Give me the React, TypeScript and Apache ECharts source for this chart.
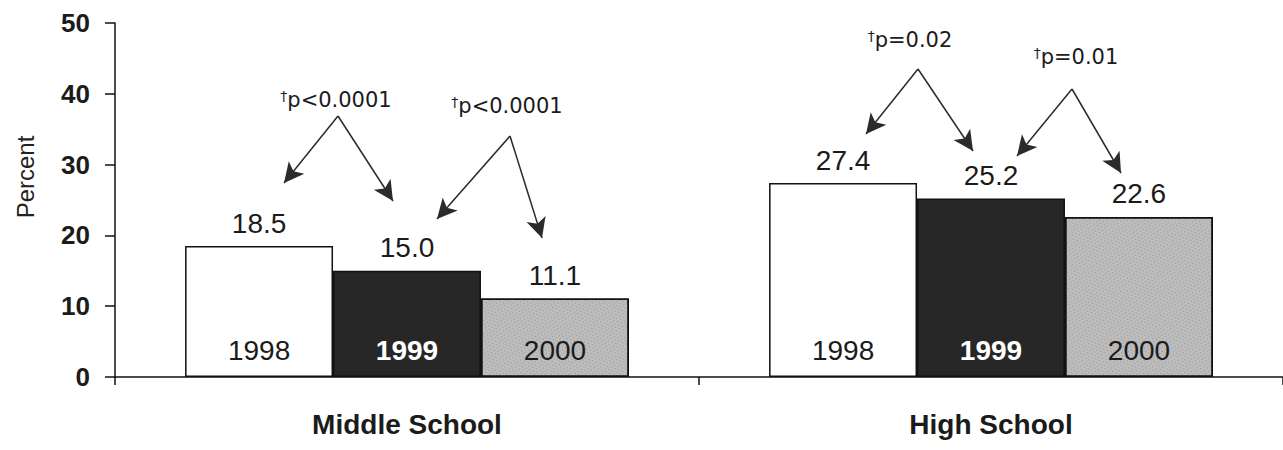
import React, { useEffect, useRef } from 'react';
import * as echarts from 'echarts';

// Prevalence by school level and survey year
const categories = ['Middle School', 'High School'];
const years = ['1998', '1999', '2000'];
const rate1998 = [18.5, 27.4];
const rate1999 = [15.0, 25.2];
const rate2000 = [11.1, 22.6];

// Significance of year-to-year changes (left pair, right pair per school level)
const pLabels = ['p<0.0001', 'p<0.0001', 'p=0.02', 'p=0.01'];

// Pixel layout of the comparison arrows: caption centre, apex, left tip, right tip
const arrowLayout = [
  { cx: 336, cy: 100, apex: [338, 116], left: [284, 183], right: [393, 201] },
  { cx: 507, cy: 106, apex: [510, 136], left: [437, 219], right: [542, 238] },
  { cx: 910, cy: 40, apex: [918, 69], left: [866, 134], right: [973, 151] },
  { cx: 1076, cy: 57, apex: [1072, 89], left: [1017, 156], right: [1121, 173] },
];

const FONT = '"Liberation Sans", Arial, Helvetica, sans-serif';
const INK = '#1b1b1b';

const fills = ['#ffffff', '#272727', '#bcbcbc'];
// stippled look for the 2000 bars
const stipple = {
  symbol: 'rect',
  symbolSize: 0.9,
  color: 'rgba(90, 90, 90, 0.45)',
  dashArrayX: [
    [1, 3],
    [0, 2, 1, 1],
  ],
  dashArrayY: [1, 2],
  rotation: 0.35,
};
const decals: any[] = [null, null, stipple];
const yearLabelStyle = [
  { color: INK, fontWeight: 'normal' },
  { color: '#ffffff', fontWeight: 'bold' },
  { color: INK, fontWeight: 'normal' },
];

function buildOption() {
  const seriesValues = [rate1998, rate1999, rate2000];
  const series: any[] = [];
  seriesValues.forEach((values, i) => {
    const stack = 'y' + years[i];
    const itemStyle: any = { color: fills[i], borderColor: '#111', borderWidth: 1.5 };
    if (decals[i]) itemStyle.decal = decals[i];
    // the bar itself, with the survey year written inside its foot
    series.push({
      type: 'bar',
      name: years[i],
      stack,
      data: values,
      barGap: '0%',
      barCategoryGap: '24%',
      silent: true,
      itemStyle,
      label: {
        show: true,
        position: 'insideBottom',
        distance: 13,
        formatter: () => years[i],
        fontFamily: FONT,
        fontSize: 28,
        ...yearLabelStyle[i],
      },
    });
    // zero-height cap carrying the value label above the bar
    series.push({
      type: 'bar',
      name: years[i] + ' value',
      stack,
      data: values.map(() => 0),
      barGap: '0%',
      barCategoryGap: '24%',
      silent: true,
      itemStyle: { color: 'transparent', borderWidth: 0 },
      label: {
        show: true,
        position: 'top',
        distance: 9,
        formatter: (p: any) => values[p.dataIndex].toFixed(1),
        fontFamily: FONT,
        fontSize: 28,
        color: INK,
      },
    });
  });

  // comparison arrows
  const arrowLines: any[] = [];
  arrowLayout.forEach((a) => {
    arrowLines.push([
      { x: a.apex[0], y: a.apex[1] },
      { x: a.left[0], y: a.left[1] },
    ]);
    arrowLines.push([
      { x: a.apex[0], y: a.apex[1] },
      { x: a.right[0], y: a.right[1] },
    ]);
  });
  series[0].markLine = {
    silent: true,
    animation: false,
    symbol: ['none', 'arrow'],
    symbolSize: [15, 20],
    label: { show: false },
    lineStyle: { color: '#2b2b2b', width: 1.5, type: 'solid' },
    data: arrowLines,
  };

  const graphics: any[] = arrowLayout.map((a, i) => ({
    type: 'text',
    x: a.cx,
    y: a.cy,
    silent: true,
    style: {
      text: '{d|\u2020}{p|' + pLabels[i] + '}',
      align: 'center',
      verticalAlign: 'middle',
      textAlign: 'center',
      textVerticalAlign: 'middle',
      fill: INK,
      rich: {
        d: { fontFamily: '"DejaVu Sans", sans-serif', fontSize: 14, verticalAlign: 'top', fill: INK, color: INK, lineHeight: 23 },
        p: { fontFamily: '"DejaVu Sans", sans-serif', fontSize: 21, fill: INK, color: INK, lineHeight: 23 },
      },
    },
  }));
  graphics.push({
    type: 'text',
    x: 25,
    y: 177,
    rotation: Math.PI / 2,
    silent: true,
    style: {
      text: 'Percent',
      font: '24px ' + FONT,
      fill: '#222',
      align: 'center',
      verticalAlign: 'middle',
      textAlign: 'center',
      textVerticalAlign: 'middle',
    },
  });

  return {
    animation: false,
    backgroundColor: '#ffffff',
    aria: { enabled: false, decal: { show: false } },
    grid: { left: 115, width: 1174, top: 23, bottom: 73, containLabel: false },
    xAxis: {
      type: 'category',
      data: categories,
      boundaryGap: true,
      axisLine: { show: true, lineStyle: { color: '#111', width: 1.5 } },
      axisTick: { show: true, length: 8, lineStyle: { color: '#111', width: 1.5 } },
      axisLabel: {
        fontFamily: FONT,
        fontSize: 28,
        fontWeight: 'bold',
        color: INK,
        margin: 33,
      },
      splitLine: { show: false },
    },
    yAxis: {
      type: 'value',
      min: 0,
      max: 50,
      interval: 10,
      axisLine: { show: true, lineStyle: { color: '#111', width: 1.5 } },
      axisTick: { show: true, length: 10, lineStyle: { color: '#111', width: 1.5 } },
      axisLabel: {
        fontFamily: FONT,
        fontSize: 26,
        fontWeight: 'bold',
        color: INK,
        margin: 25,
      },
      splitLine: { show: false },
    },
    series,
    graphic: graphics,
  };
}

export default function App() {
  const ref = useRef<HTMLDivElement>(null);
  useEffect(() => {
    const chart = echarts.init(ref.current!, null, { renderer: 'svg' });
    chart.setOption(buildOption() as any);
    return () => chart.dispose();
  }, []);
  return (
    <div
      ref={ref}
      style={{ position: 'fixed', left: 0, top: 0, width: 1283, height: 450, background: '#fff' }}
    />
  );
}
